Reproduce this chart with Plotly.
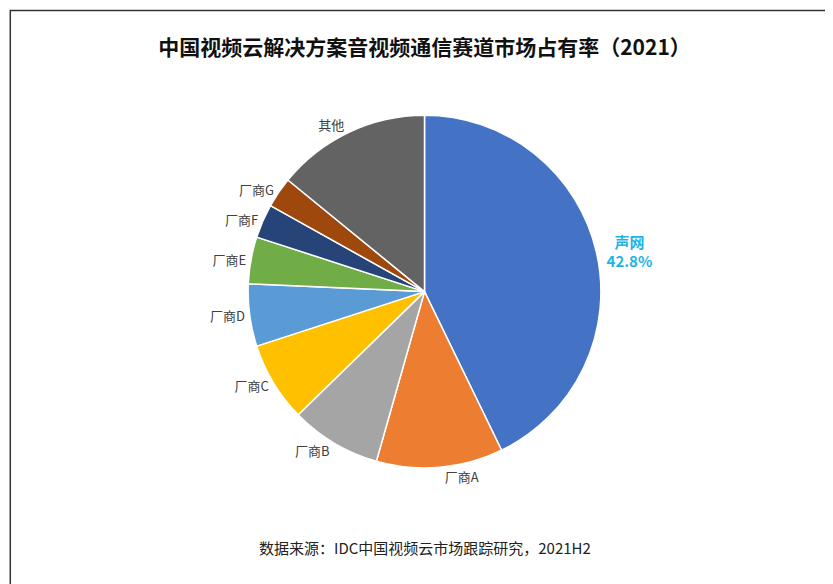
import plotly.graph_objects as go

labels = ["声网", "厂商A", "厂商B", "厂商C", "厂商D", "厂商E", "厂商F", "厂商G", "其他"]
values = [42.8, 11.6, 8.3, 7.3, 5.7, 4.3, 3.1, 2.8, 14.1]
colors = ["#4472C4", "#ED7D31", "#A5A5A5", "#FFC000", "#5B9BD5",
          "#70AD47", "#264478", "#9E480E", "#636363"]
texts = ["<b>%{label}<br>%{value}%</b>"] + ["%{label}"] * (len(labels) - 1)
text_colors = ["#1EB4E6"] + ["#404040"] * (len(labels) - 1)
text_sizes = [15] + [13] * (len(labels) - 1)

fig = go.Figure(go.Pie(
    labels=labels,
    values=values,
    sort=False,
    direction="clockwise",
    rotation=0,
    marker=dict(colors=colors, line=dict(color="white", width=1.5)),
    texttemplate=texts,
    textposition="outside",
    textfont=dict(size=text_sizes, color=text_colors),
    showlegend=False,
    domain=dict(x=[0.2, 0.8], y=[0.2, 0.83]),
))

fig.update_layout(
    width=833, height=584,
    margin=dict(l=12, r=12, t=12, b=12),
    paper_bgcolor="white",
    font=dict(family="Noto Sans CJK SC"),
    title=dict(text="<b>中国视频云解决方案音视频通信赛道市场占有率（2021）</b>",
               x=0.5, y=0.945, xanchor="center", font=dict(size=21, color="#111")),
    annotations=[dict(text="数据来源：IDC中国视频云市场跟踪研究，2021H2", x=0.5, y=0.035,
                      xref="paper", yref="paper", showarrow=False,
                      font=dict(size=15, color="#222"))],
    shapes=[dict(type="rect", xref="paper", yref="paper", x0=-0.012, y0=-0.017, x1=1.012, y1=1.017,
                 line=dict(color="#333", width=1.5))],
)

fig.write_html("out.html")
